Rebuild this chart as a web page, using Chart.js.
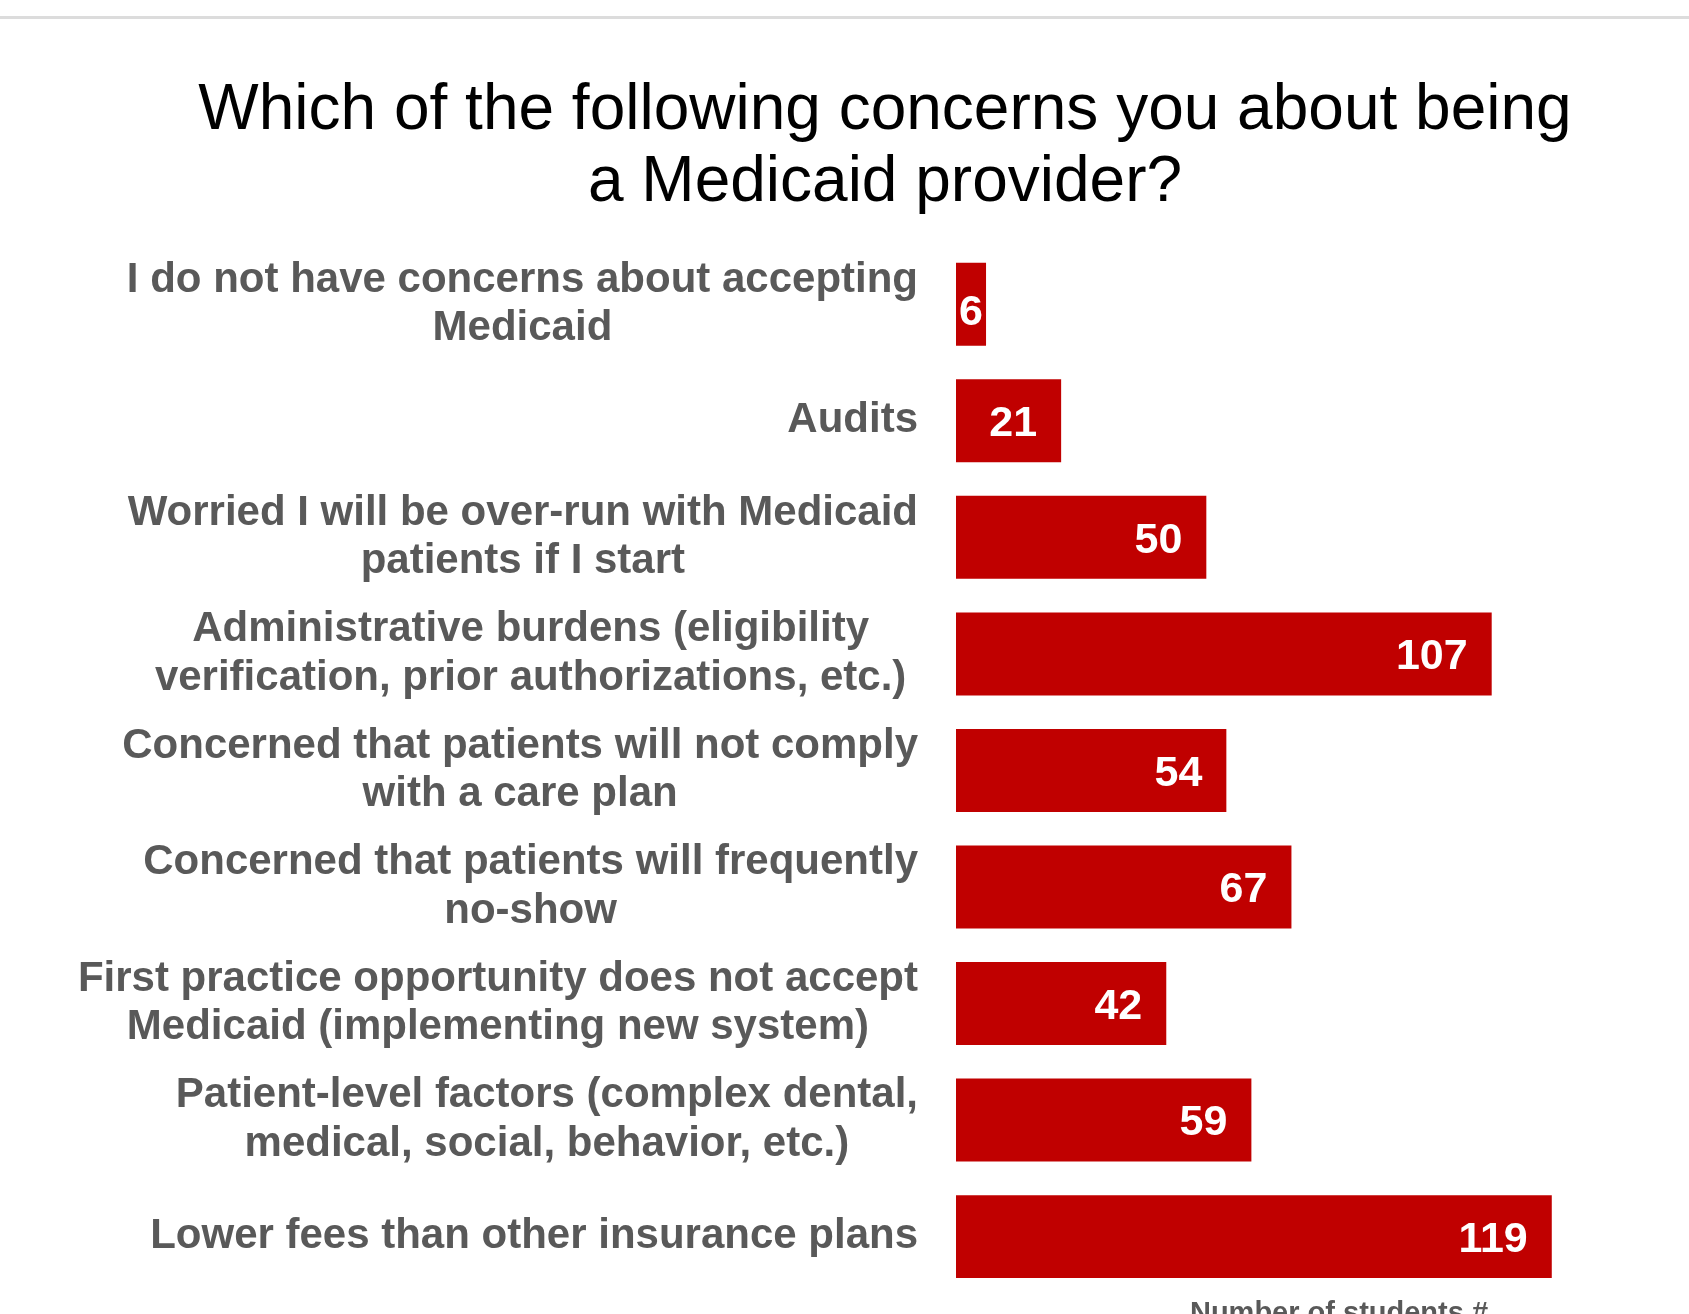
<!DOCTYPE html>
<html>
<head>
<meta charset="utf-8">
<title>Medicaid provider concerns</title>
<script src="https://cdn.jsdelivr.net/npm/chart.js@4.4.1/dist/chart.umd.min.js"></script>
<style>
html, body { margin: 0; padding: 0; background: #fff; overflow: hidden; }
.wrap { position: relative; width: 1722px; height: 1331px; }
.rule { position: absolute; left: 0; right: 0; top: 16px; height: 3px; background: #dcdcdc; }
</style>
</head>
<body>
<div class="wrap">
	<div class="rule"></div>
	<canvas id="concerns"></canvas>
</div>
<script>
const concernLabels = [
	["I do not have concerns about accepting", "Medicaid"],
	["Audits"],
	["Worried I will be over-run with Medicaid", "patients if I start"],
	["Administrative burdens (eligibility ", "verification, prior authorizations, etc.) "],
	["Concerned that patients will not comply", "with a care plan"],
	["Concerned that patients will frequently", "no-show"],
	["First practice opportunity does not accept", "Medicaid (implementing new system)"],
	["Patient-level factors (complex dental,", "medical, social, behavior, etc.)"],
	["Lower fees than other insurance plans"]
];
const studentCounts = [6, 21, 50, 107, 54, 67, 42, 59, 119];
const axisMax = 153;

const FONT = "'Liberation Sans', Arial, sans-serif";
const GREY = '#595959';
const LABEL_GAP = 38;
const VALUE_SIZE = 43;

// category labels: each block right aligned to the axis, lines centred inside the block
const blockLabels = {
	id: 'blockLabels',
	afterDraw(chart) {
		const ctx = chart.ctx;
		const yScale = chart.scales.y;
		const right = yScale.right - LABEL_GAP;
		const lineH = 48.5;
		ctx.save();
		ctx.font = 'bold 42px ' + FONT;
		ctx.fillStyle = GREY;
		ctx.textAlign = 'center';
		ctx.textBaseline = 'middle';
		concernLabels.forEach((lines, i) => {
			const y = yScale.getPixelForTick(i);
			const widest = Math.max(...lines.map(l => ctx.measureText(l).width));
			const cx = right - widest / 2;
			lines.forEach((line, j) => {
				ctx.fillText(line, cx, y + (j - (lines.length - 1) / 2) * lineH);
			});
		});
		ctx.restore();
	}
};

// value labels inside the end of each bar
const valueLabels = {
	id: 'valueLabels',
	afterDatasetsDraw(chart) {
		const ctx = chart.ctx;
		const meta = chart.getDatasetMeta(0);
		ctx.save();
		ctx.font = 'bold ' + VALUE_SIZE + 'px ' + FONT;
		ctx.fillStyle = '#ffffff';
		ctx.textBaseline = 'alphabetic';
		meta.data.forEach((bar, i) => {
			const text = String(studentCounts[i]);
			const w = ctx.measureText(text).width;
			let y = bar.y + VALUE_SIZE * 0.358;
			if (bar.x - bar.base - 24 - w < 4) {
				// too short for inside-end, sit it in the middle a bit lower
				ctx.textAlign = 'center';
				ctx.fillText(text, (bar.x + bar.base) / 2, y + 5);
			} else {
				ctx.textAlign = 'right';
				ctx.fillText(text, bar.x - 24, y);
			}
		});
		ctx.restore();
	}
};

const concerns = document.querySelector('#concerns');
let concernChart = new Chart(concerns, {
	type: 'bar',
	data: {
		labels: concernLabels,
		datasets: [{
			label: 'Number of students',
			data: studentCounts,
			backgroundColor: '#c00000',
			borderWidth: 0,
			categoryPercentage: 1,
			barPercentage: 0.712
		}]
	},
	options: {
		indexAxis: 'y',
		responsive: true,
		maintainAspectRatio: false,
		animation: false,
		layout: {
			padding: { top: 0, left: 48, right: 0, bottom: 0 }
		},
		plugins: {
			legend: { display: false },
			tooltip: { enabled: false },
			title: {
				display: true,
				text: ['Which of the following concerns you about being', 'a Medicaid provider?'],
				color: '#000000',
				font: { family: FONT, size: 64, weight: 'normal', lineHeight: 1.125 },
				padding: { top: 75, bottom: 27 }
			}
		},
		scales: {
			x: {
				min: 0,
				max: axisMax,
				grid: { display: false, drawTicks: false },
				border: { display: false },
				ticks: { display: false },
				title: {
					display: true,
					text: 'Number of students #',
					color: GREY,
					font: { family: FONT, size: 29, weight: 'bold', lineHeight: 1.2 },
					padding: { top: 1.3, bottom: 0 }
				}
			},
			y: {
				grid: { display: false, drawTicks: false },
				border: { display: false },
				ticks: { display: false },
				afterFit(axis) {
					axis.width = 908;
					axis.paddingTop = 0;
					axis.paddingBottom = 0;
				}
			}
		}
	},
	plugins: [blockLabels, valueLabels]
});
</script>
</body>
</html>
